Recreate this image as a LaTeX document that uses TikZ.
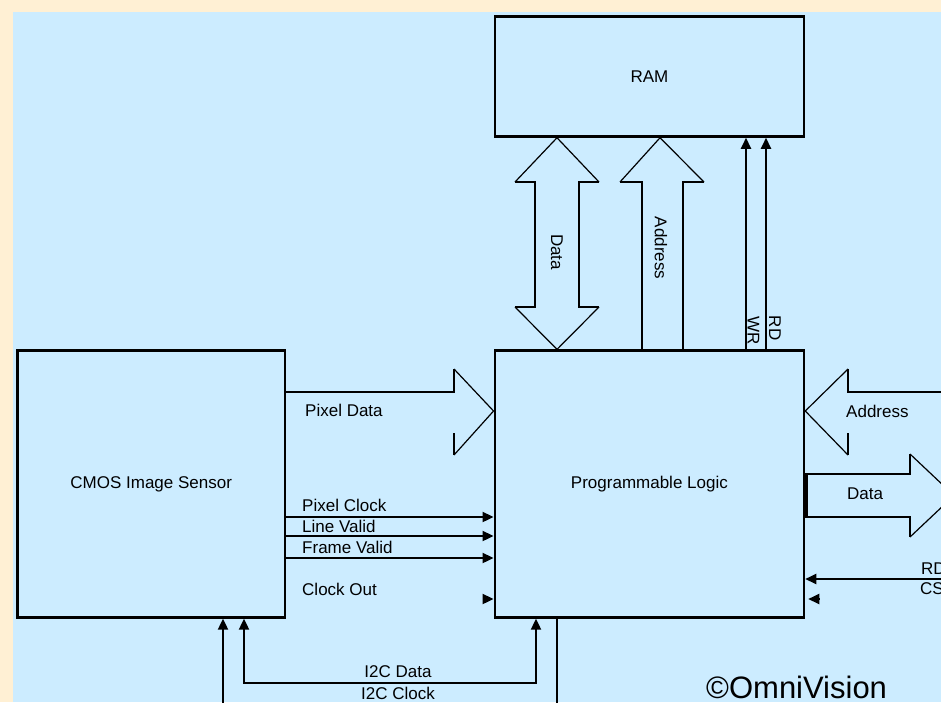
\documentclass[tikz,border=0pt]{standalone}
\usepackage{fontspec}
\setmainfont{Liberation Sans}
\usetikzlibrary{arrows.meta}
\definecolor{paper}{HTML}{FFF0D4}
\definecolor{panel}{HTML}{CCECFF}
\tikzset{
  >={Triangle[length=11pt,width=10pt]},
  block/.style={draw,line width=2.7pt,fill=panel,inner sep=0pt,font=\fontsize{17}{20}\selectfont},
  sig/.style={line width=2pt,->},
  bus/.style={line width=2pt},
  tip/.style={line width=1.2pt},
  lbl/.style={inner sep=0pt,font=\fontsize{17}{20}\selectfont},
}
\begin{document}
\begin{tikzpicture}[x=1pt,y=-1pt]
  \useasboundingbox (0,0) rectangle (941,702);
  \clip (0,0) rectangle (941,702);
  \fill[paper] (0,0) rectangle (941,702);
  \fill[panel] (13,12) rectangle (941,702);
  % blocks
  \node[block,minimum width=309pt,minimum height=120pt] (ram) at (649.4,76.4) {RAM};
  \node[block,minimum width=309pt,minimum height=266.6pt] (logic) at (649.4,484) {Programmable Logic};
  \node[block,minimum width=267.5pt,minimum height=266.6pt] (cmos) at (151.2,484) {CMOS Image Sensor};
  % RAM data bus
  \draw[bus] (515,182) -- (535,182) -- (535,307) -- (515,307);
  \draw[bus] (599,182) -- (579,182) -- (579,307) -- (599,307);
  \draw[tip] (515,182) -- (ram.south -| 557,0) -- (599,182);
  \draw[tip] (515,307) -- (logic.north -| 557,0) -- (599,307);
  \node[lbl,rotate=-90] (ramdata) at (557,252) {Data};
  % RAM address bus
  \draw[bus] (620,182) -- (642,182) -- (logic.north -| 642,0);
  \draw[bus] (704,182) -- (683,182) -- (logic.north -| 683,0);
  \draw[tip] (620,182) -- (ram.south -| 660,0) -- (704,182);
  \node[lbl,rotate=-90] (ramaddr) at (661,248) {Address};
  % WR and RD
  \draw[sig] (logic.north -| 746,0) -- (ram.south -| 746,0);
  \draw[sig] (logic.north -| 766,0) -- (ram.south -| 766,0);
  \node[lbl,rotate=-90] (wr) at (753.5,331) {WR};
  \node[lbl,rotate=-90] (rd) at (775,328) {RD};
  % pixel data bus
  \draw[bus] (cmos.east |- 0,392) -- (454,392) -- (454,369);
  \draw[bus] (454,433) -- (454,455);
  \draw[tip] (454,369) -- (logic.west |- 0,411) -- (454,455);
  \node[lbl,anchor=west] (pixdata) at (305,410) {Pixel Data};
  % sensor signals
  \draw[sig] (cmos.east |- 0,517) -- (logic.west |- 0,517);
  \draw[sig] (cmos.east |- 0,536) -- (logic.west |- 0,536);
  \draw[sig] (cmos.east |- 0,558) -- (logic.west |- 0,558);
  \draw[sig] (483,599) -- (logic.west |- 0,599);
  \node[lbl,anchor=west] (pixclk) at (302,505) {Pixel Clock};
  \node[lbl,anchor=west] (lineval) at (302,526) {Line Valid};
  \node[lbl,anchor=west] (frameval) at (302,547) {Frame Valid};
  \node[lbl,anchor=west] (clkout) at (302,589) {Clock Out};
  % host address bus
  \draw[bus] (950,392) -- (848,392) -- (848,369);
  \draw[bus] (848,433) -- (848,455);
  \draw[tip] (848,369) -- (logic.east |- 0,411) -- (848,455);
  \node[lbl,anchor=west] (hostaddr) at (846,411) {Address};
  % host data bus
  \draw[bus] (910,454) -- (910,474) -- (logic.east |- 0,474);
  \draw[bus] (logic.east |- 0,517) -- (910,517) -- (910,537);
  \draw[line width=3pt] ([xshift=1.5pt]logic.east |- 0,474) -- ([xshift=1.5pt]logic.east |- 0,517);
  \draw[tip] (910,454) -- (954,495.5) -- (910,537);
  \node[lbl,anchor=west] (hostdata) at (847,494) {Data};
  % RD and CS
  \draw[sig] (950,579) -- (logic.east |- 0,579);
  \draw[sig] (819,599) -- ([xshift=3pt]logic.east |- 0,599);
  \node[lbl,anchor=west] (hostrd) at (921,569) {RD};
  \node[lbl,anchor=west] (hostcs) at (920,589) {CS};
  % I2C
  \draw[sig] (223,712) -- (cmos.south -| 223,0);
  \draw[sig,<->] (cmos.south -| 244,0) -- (244,683) -- (536,683) -- (logic.south -| 536,0);
  \draw[bus] (logic.south -| 557,0) -- (557,712);
  \node[lbl] (i2cdata) at (398,672) {I2C Data};
  \node[lbl] (i2cclk) at (398,693) {I2C Clock};
  \node[inner sep=0pt,anchor=west,font=\fontsize{31}{34}\selectfont] (copy) at (706,687) {©OmniVision};
\end{tikzpicture}
\end{document}
